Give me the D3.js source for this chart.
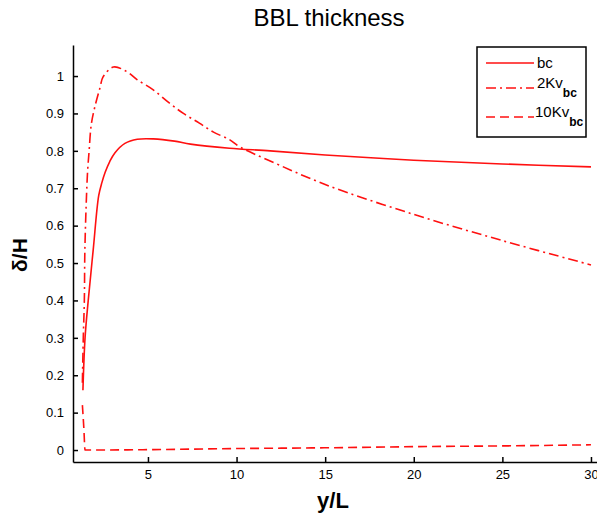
<!DOCTYPE html>
<html lang="en">
<head>
  <meta charset="UTF-8">
  <title>BBL thickness</title>
  <script src="https://cdn.jsdelivr.net/npm/d3@7"></script>
  <style>
    html, body { margin: 0; padding: 0; background: #fff; }
    svg { display: block; font-family: "Liberation Sans", Arial, sans-serif; }
    .tick text { font-size: 13px; fill: #000; }
    .tick line, .domain { stroke: #000; stroke-width: 1.5; }
  </style>
</head>
<body>
  <svg width="597" height="519"></svg>

  <script>
    // values
    const bcX = [1.33, 1.45, 1.63, 1.91, 2.22, 2.4, 2.58, 2.85, 3.14, 3.7, 4.4, 5.3, 6.5, 7.4, 9.6, 11.9, 15, 20, 25, 30]
    const bcY = [0.16, 0.3, 0.4, 0.535, 0.68, 0.715, 0.742, 0.772, 0.795, 0.82, 0.831, 0.832, 0.826, 0.818, 0.807, 0.8, 0.789, 0.775, 0.765, 0.757]

    const kv2X = [1.3, 1.35, 1.41, 1.44, 1.54, 1.6, 1.68, 1.8, 2.0, 2.3, 2.46, 3.05, 3.8, 4.4, 5.3, 6.2, 7.0, 7.9, 8.7, 9.6, 10.2, 11.8, 15, 20, 25, 30]
    const kv2Y = [0.18, 0.3, 0.4, 0.535, 0.69, 0.75, 0.8, 0.87, 0.917, 0.97, 0.997, 1.024, 1.012, 0.99, 0.963, 0.928, 0.9, 0.874, 0.85, 0.83, 0.81, 0.775, 0.71, 0.63, 0.56, 0.495]

    const kv10X = [1.3, 1.38, 1.45, 5, 10, 15, 20, 25, 30]
    const kv10Y = [0.12, 0.06, 0, 0.001, 0.004, 0.006, 0.009, 0.011, 0.014]

    const xTicks = [5, 10, 15, 20, 25, 30]
    const yTicks = [0, 0.1, 0.2, 0.3, 0.4, 0.5, 0.6, 0.7, 0.8, 0.9, 1]
    const yTickLabels = ['0', '0.1', '0.2', '0.3', '0.4', '0.5', '0.6', '0.7', '0.8', '0.9', '1']

    const svg = d3.select('svg')
    const red = '#ff1010'

    const x = d3.scaleLinear().domain([0.77, 30.34]).range([73, 597])
    const y = d3.scaleLinear().domain([-0.032, 1.083]).range([462, 45])

    svg.append('g')
      .attr('transform', 'translate(0, 462)')
      .call(d3.axisBottom(x).tickValues(xTicks).tickSizeInner(-5).tickSizeOuter(0).tickPadding(8))

    svg.append('g')
      .attr('transform', 'translate(73, 0)')
      .call(d3.axisLeft(y).tickValues(yTicks).tickFormat((d, i) => yTickLabels[i])
        .tickSizeInner(-5).tickSizeOuter(0).tickPadding(9))

    const smooth = d3.line()
      .x(d => x(d[0]))
      .y(d => y(d[1]))
      .curve(d3.curveCatmullRom.alpha(0.5))

    const straight = d3.line()
      .x(d => x(d[0]))
      .y(d => y(d[1]))
      .curve(d3.curveMonotoneX)

    const series = [
      { name: 'bc', xs: bcX, ys: bcY, dash: null, line: smooth },
      { name: '2Kv', xs: kv2X, ys: kv2Y, dash: '10,4,2,4', line: smooth },
      { name: '10Kv', xs: kv10X, ys: kv10Y, dash: '9,5', line: straight }
    ]

    series.forEach(s => {
      svg.append('path')
        .datum(d3.zip(s.xs, s.ys))
        .attr('d', s.line)
        .attr('fill', 'none')
        .attr('stroke', red)
        .attr('stroke-width', 1.6)
        .attr('stroke-dasharray', s.dash)
    })

    // legend
    const legend = svg.append('g')
    legend.append('rect')
      .attr('x', 477).attr('y', 47)
      .attr('width', 109).attr('height', 90)
      .attr('fill', '#fff').attr('stroke', '#000').attr('stroke-width', 1.5)

    const rows = [
      { ly: 63, ty: 68, label: 'bc', sub: null },
      { ly: 88, ty: 88, label: '2Kv', sub: 'bc' },
      { ly: 117, ty: 117, label: '10Kv', sub: 'bc' }
    ]
    rows.forEach((r, i) => {
      legend.append('line')
        .attr('x1', 486).attr('x2', 534)
        .attr('y1', r.ly).attr('y2', r.ly)
        .attr('stroke', red).attr('stroke-width', 1.6)
        .attr('stroke-dasharray', series[i].dash)
      const t = legend.append('text')
        .attr('x', i === 2 ? 535 : 537).attr('y', r.ty)
        .attr('font-size', 15)
        .text(r.label)
      if (r.sub) {
        t.append('tspan')
          .attr('dy', 9)
          .attr('font-size', 12)
          .attr('font-weight', 'bold')
          .text(r.sub)
      }
    })

    svg.append('text')
      .attr('x', 329)
      .attr('y', 26)
      .attr('text-anchor', 'middle')
      .attr('font-size', 24)
      .text('BBL thickness')

    svg.append('text')
      .attr('x', 333)
      .attr('y', 508)
      .attr('text-anchor', 'middle')
      .attr('font-size', 22)
      .attr('font-weight', 'bold')
      .text('y/L')

    svg.append('text')
      .attr('transform', 'translate(27, 255) rotate(-90)')
      .attr('text-anchor', 'middle')
      .attr('font-size', 21)
      .attr('font-weight', 'bold')
      .text('δ/H')
  </script>
</body>
</html>
